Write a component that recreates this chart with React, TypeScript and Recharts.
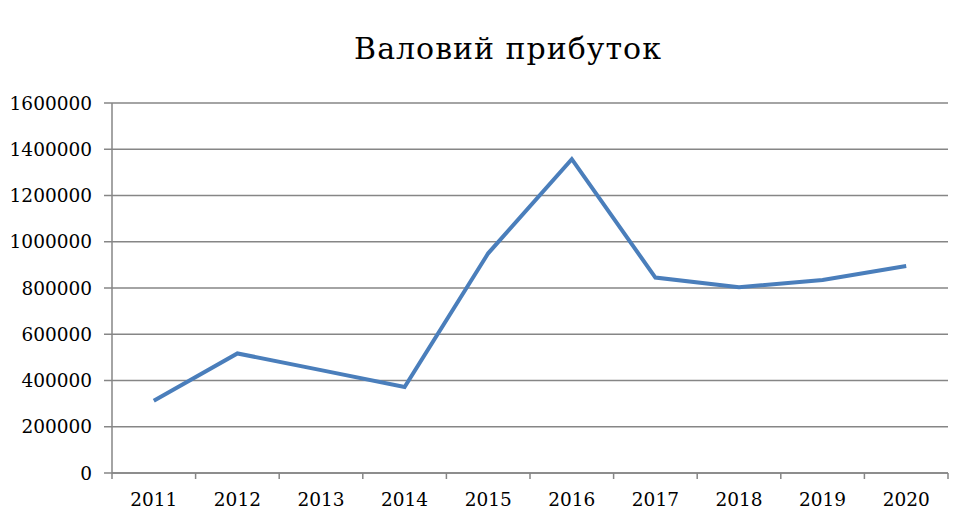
import { LineChart, Line, XAxis, YAxis, CartesianGrid } from "recharts";

// Валовий прибуток за роками
const YEARS = ["2011", "2012", "2013", "2014", "2015", "2016", "2017", "2018", "2019", "2020"];
const GROSS_PROFIT = [312000, 517000, 445000, 372000, 950000, 1357000, 845000, 803000, 835000, 895000];
const Y_TICKS = [0, 200000, 400000, 600000, 800000, 1000000, 1200000, 1400000, 1600000];

const WIDTH = 956;
const HEIGHT = 520;
const PLOT_LEFT = 112;
const PLOT_RIGHT = 948;
const BAND = (PLOT_RIGHT - PLOT_LEFT) / YEARS.length;

const FONT = "'DejaVu Serif', serif";
const TICK_SIZE = 18.5;
const GRID = "#868686";
const LINE = "#4a7ebb";

const data = YEARS.map((year, i) => ({ year, value: GROSS_PROFIT[i] }));

// tick marks sit on the band edges, labels in the middle
function YearTick({ x, y, payload, index }: any) {
  const left = x - BAND / 2;
  const axisY = y - 8;
  return (
    <g>
      <line x1={left} y1={axisY} x2={left} y2={axisY + 6} stroke={GRID} strokeWidth={1.5} />
      {index === YEARS.length - 1 && (
        <line x1={left + BAND} y1={axisY} x2={left + BAND} y2={axisY + 6} stroke={GRID} strokeWidth={1.5} />
      )}
      <text x={x} y={axisY + 33} textAnchor="middle" fontFamily={FONT} fontSize={TICK_SIZE} fill="#000">
        {payload.value}
      </text>
    </g>
  );
}

export default function App() {
  return (
    <div style={{ width: WIDTH, height: HEIGHT, position: "relative", background: "#fff" }}>
      <style>{`body{margin:0}`}</style>
      <div
        style={{
          position: "absolute",
          top: 31,
          left: 508 - 250,
          width: 500,
          textAlign: "center",
          fontFamily: FONT,
          fontSize: 30,
          letterSpacing: 1,
          lineHeight: "36px",
          color: "#000",
        }}
      >
        Валовий прибуток
      </div>
      <LineChart
        width={WIDTH}
        height={HEIGHT}
        data={data}
        margin={{ top: 103, right: WIDTH - PLOT_RIGHT, bottom: 0, left: 0 }}
      >
        <CartesianGrid vertical={false} stroke={GRID} strokeWidth={1.5} />
        <XAxis
          dataKey="year"
          height={47}
          padding={{ left: BAND / 2, right: BAND / 2 }}
          axisLine={{ stroke: GRID, strokeWidth: 1.5 }}
          tickLine={false}
          tick={<YearTick />}
          interval={0}
        />
        <YAxis
          width={PLOT_LEFT}
          domain={[0, 1600000]}
          ticks={Y_TICKS}
          interval={0}
          axisLine={{ stroke: GRID, strokeWidth: 1.5 }}
          tickLine={{ stroke: GRID, strokeWidth: 1.5 }}
          tickSize={8}
          tickMargin={12}
          tick={{ fontFamily: FONT, fontSize: TICK_SIZE, fill: "#000" }}
        />
        <Line
          type="linear"
          dataKey="value"
          stroke={LINE}
          strokeWidth={4}
          dot={false}
          activeDot={false}
          isAnimationActive={false}
        />
      </LineChart>
    </div>
  );
}
